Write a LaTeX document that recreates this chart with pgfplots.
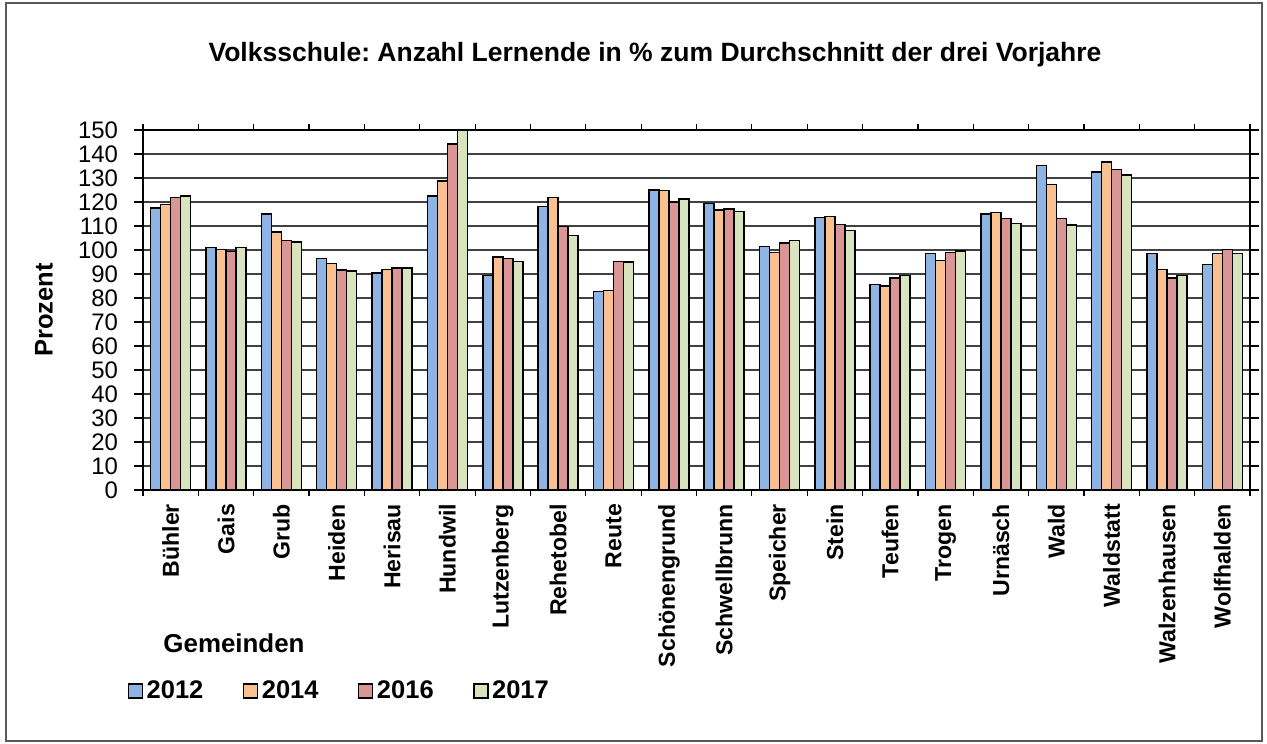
\documentclass[border=0pt]{standalone}
\usepackage{pgfplots}
\pgfplotsset{compat=1.18}
\usepackage{pgfplotstable}
\usepackage{fontspec}
\setmainfont{Liberation Sans}
\frenchspacing
\definecolor{cA}{HTML}{8EB4E3}
\definecolor{cB}{HTML}{FAC090}
\definecolor{cC}{HTML}{D99694}
\definecolor{cD}{HTML}{D7E4BD}
\pgfplotstableread{
x a b c d
0 117.5 118.9 121.8 122.6
1 101.0 100.3 99.3 101.0
2 114.9 107.4 103.9 103.3
3 96.4 94.3 91.7 91.3
4 90.4 91.9 92.4 92.5
5 122.4 128.8 144.2 150.0
6 89.4 97.1 96.4 95.3
7 118.2 121.8 109.7 106.1
8 82.8 83.1 95.3 95.1
9 125.0 124.7 120.1 121.3
10 119.3 116.7 117.1 116.1
11 101.5 98.9 102.9 104.0
12 113.5 114.0 110.7 108.1
13 85.6 84.9 88.3 89.4
14 98.5 95.7 98.9 99.6
15 115.0 115.6 113.1 111.0
16 135.3 127.2 113.1 110.4
17 132.6 136.7 133.5 131.3
18 98.6 91.9 88.3 89.4
19 94.0 98.6 100.3 98.6
}\datatable
\begin{document}
\begin{tikzpicture}
\useasboundingbox (0,0) rectangle (633.5bp,372bp);
\fill[white] (0,0) rectangle (633.5bp,372bp);
\draw[black!65, line width=0.6bp] (3bp,1.5bp) rectangle (631bp,370.5bp);
\begin{axis}[
  at={(71.5bp,127bp)}, anchor=south west,
  scale only axis, width=553.5bp, height=180bp,
  ybar=0pt, bar width=5bp,
  xmin=-0.5, xmax=19.5, ymin=0, ymax=150,
  ytick={0,10,...,150},
  xtick={0,...,19},
  xticklabels={Bühler,Gais,Grub,Heiden,Herisau,Hundwil,Lutzenberg,Rehetobel,Reute,Schönengrund,Schwellbrunn,Speicher,Stein,Teufen,Trogen,Urnäsch,Wald,Waldstatt,Walzenhausen,Wolfhalden},
  minor xtick={-0.5,0.5,...,19.5},
  major x tick style={draw=none},
  tick align=outside,
  major tick length=4.5bp,
  minor tick length=3bp,
  tick style={black, line width=0.6bp},
  ymajorgrids, major grid style={black!75, line width=0.6bp},
  axis line style={black, line width=1bp},
  x tick label style={rotate=90, anchor=east, font=\fontsize{11.6}{13}\selectfont\bfseries},
  y tick label style={font=\fontsize{12}{14}\selectfont},
  /pgf/number format/assume math mode=true,
  xticklabel shift=-1bp,
  yticklabel shift=4.5bp,
  legend style={at={(-0.0195,-0.558)}, anchor=west, draw=none, fill=none,
    font=\fontsize{12.8}{15}\selectfont\bfseries, legend columns=4,
    nodes={inner xsep=1.75bp},
    /tikz/every even column/.append style={column sep=18bp}},
  legend image code/.code={\draw[#1, line width=0.7bp] (0bp,-3.5bp) rectangle (7bp,3.5bp);},
  every axis plot/.append style={draw=black, line width=0.75bp},
]
\addplot[fill=cA] table[x=x,y=a]{\datatable};
\addplot[fill=cB] table[x=x,y=b]{\datatable};
\addplot[fill=cC] table[x=x,y=c]{\datatable};
\addplot[fill=cD] table[x=x,y=d]{\datatable};
\legend{2012,2014,2016,2017}
\end{axis}
\node[font=\fontsize{13.3}{15}\selectfont\bfseries] at (327.5bp,344.5bp) {Volksschule: Anzahl Lernende in \% zum Durchschnitt der drei Vorjahre};
\node[font=\fontsize{12.8}{15}\selectfont\bfseries, rotate=90] at (22bp,217bp) {Prozent};
\node[font=\fontsize{13}{15}\selectfont\bfseries] at (117bp,50.5bp) {Gemeinden};
\end{tikzpicture}
\end{document}
